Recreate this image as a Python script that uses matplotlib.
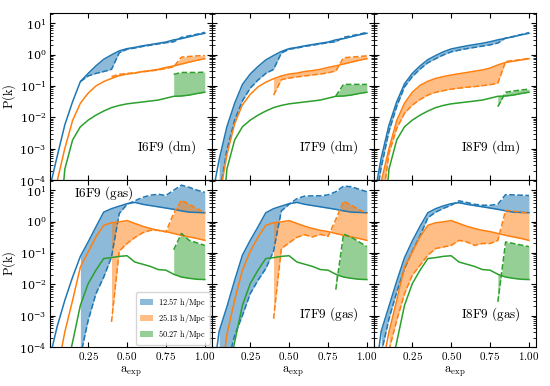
import numpy as np
import matplotlib
matplotlib.use("Agg")
import matplotlib.pyplot as plt
from matplotlib.patches import Patch
from matplotlib.ticker import FuncFormatter

plt.rcParams['mathtext.fontset'] = 'cm'
plt.rcParams['font.family'] = 'serif'
plt.rcParams['font.serif'] = ['DejaVu Serif']

N = np.nan

# scale factor grid
a_exp = [0.01, 0.05, 0.10, 0.15, 0.20, 0.25, 0.30, 0.35, 0.40, 0.45, 0.50,
         0.55, 0.60, 0.65, 0.70, 0.75, 0.80, 0.85, 0.90, 0.95, 1.00]

modes = ['12.57 h/Mpc', '25.13 h/Mpc', '50.27 h/Mpc']

# log10 P(k) (solid = reference run, dashed = lower res run)
# --- dm ---
i6_dm_k1 = [-4.1, -3.26, -2.24, -1.5, -0.86, -0.6, -0.36, -0.15, -0.01, 0.12, 0.19, 0.23, 0.28, 0.32, 0.36, 0.40, 0.47, 0.51, 0.57, 0.63, 0.68]
i6_dm_k1d = [N, N, N, N, -0.86, -0.68, -0.6, -0.54, -0.47, 0.06, 0.17, 0.21, 0.26, 0.30, 0.34, 0.38, 0.41, 0.55, 0.60, 0.65, 0.71]
i6_dm_k2 = [N, -4.05, -2.99, -2.1, -1.55, -1.23, -1.0, -0.86, -0.76, -0.67, -0.62, -0.59, -0.54, -0.51, -0.47, -0.41, -0.36, -0.30, -0.24, -0.18, -0.13]
i6_dm_k2d = [N] * 8 + [-0.7, -0.63, -0.6, -0.58, -0.55, -0.52, -0.49, -0.44, -0.39, -0.08, -0.06, -0.04, -0.03]
i6_dm_k3 = [N, -6.5, -3.65, -2.72, -2.3, -2.09, -1.93, -1.8, -1.69, -1.62, -1.57, -1.54, -1.51, -1.48, -1.45, -1.39, -1.33, -1.32, -1.29, -1.24, -1.2]
i6_dm_k3d = [N] * 16 + [-0.63, -0.57, -0.57, -0.57, -0.56]

i7_dm_k1 = [-4.4, -3.35, -2.3, -1.55, -0.95, -0.62, -0.38, -0.17, -0.03, 0.1, 0.19, 0.23, 0.28, 0.32, 0.36, 0.40, 0.47, 0.51, 0.57, 0.63, 0.68]
i7_dm_k1d = [N, -4.5, -3.04, -2.09, -1.47, -1.07, -0.81, -0.6, -0.47, 0.05, 0.17, 0.21, 0.26, 0.30, 0.34, 0.38, 0.41, 0.55, 0.60, 0.65, 0.71]
i7_dm_k2 = [N, -4.6, -3.2, -2.2, -1.6, -1.27, -1.03, -0.88, -0.77, -0.68, -0.62, -0.59, -0.54, -0.51, -0.47, -0.41, -0.36, -0.30, -0.24, -0.18, -0.13]
i7_dm_k2d = [N] * 8 + [-1.29, -0.8, -0.75, -0.71, -0.68, -0.65, -0.62, -0.58, -0.52, -0.1, -0.08, -0.06, -0.04]
i7_dm_k3 = [N, -6.5, -3.65, -2.72, -2.3, -2.09, -1.93, -1.8, -1.69, -1.62, -1.57, -1.54, -1.51, -1.48, -1.45, -1.39, -1.33, -1.32, -1.29, -1.24, -1.2]
i7_dm_k3d = [N] * 16 + [-1.32, -0.95, -0.95, -0.95, -0.95]

i8_dm_k1 = [-4.4, -3.3, -2.25, -1.5, -0.93, -0.6, -0.36, -0.16, -0.03, 0.09, 0.18, 0.23, 0.28, 0.32, 0.36, 0.41, 0.47, 0.52, 0.57, 0.63, 0.68]
i8_dm_k1d = [-4.8, -3.6, -2.45, -1.65, -1.03, -0.7, -0.46, -0.26, -0.13, -0.01, 0.09, 0.14, 0.19, 0.23, 0.27, 0.31, 0.37, 0.53, 0.58, 0.64, 0.70]
i8_dm_k2 = [N, -4.05, -3.0, -2.1, -1.55, -1.2, -0.98, -0.85, -0.76, -0.7, -0.65, -0.61, -0.57, -0.53, -0.49, -0.43, -0.33, -0.25, -0.21, -0.17, -0.13]
i8_dm_k2d = [N, -5.0, -3.15, -2.35, -1.87, -1.61, -1.43, -1.29, -1.2, -1.15, -1.1, -1.07, -1.04, -1.02, -0.99, -0.96, -0.91, -0.22, -0.19, -0.16, -0.12]
i8_dm_k3 = [N, -6.5, -3.65, -2.72, -2.3, -2.09, -1.93, -1.8, -1.69, -1.62, -1.57, -1.54, -1.51, -1.48, -1.45, -1.39, -1.33, -1.32, -1.29, -1.24, -1.2]
i8_dm_k3d = [N] * 16 + [-1.66, -1.2, -1.16, -1.13, -1.1]

# --- gas ---
i6_gas_k1 = [-4.2, -3.36, -2.51, -1.77, -1.11, -0.65, -0.17, 0.3, 0.41, 0.49, 0.57, 0.61, 0.55, 0.51, 0.47, 0.43, 0.39, 0.34, 0.3, 0.29, 0.28]
i6_gas_k1d = [N, N, N, N, -4.3, -3.15, -2.3, -1.77, -1.13, 0.26, 0.55, 0.66, 0.77, 0.84, 0.87, 0.83, 1.0, 1.16, 1.09, 1.0, 0.93]
i6_gas_k2 = [N, -4.8, -3.52, -2.51, -1.45, -0.97, -0.49, -0.12, -0.04, -0.01, 0.03, -0.06, -0.15, -0.22, -0.28, -0.32, -0.38, -0.44, -0.49, -0.54, -0.6]
i6_gas_k2d = [N] * 8 + [-3.2, -0.94, -0.7, -0.51, -0.36, -0.28, -0.28, -0.33, 0.26, 0.68, 0.55, 0.41, 0.28]
i6_gas_k3 = [N, N, -5.0, -3.84, -2.67, -1.98, -1.55, -1.18, -1.15, -1.11, -1.09, -1.29, -1.36, -1.43, -1.53, -1.55, -1.68, -1.77, -1.81, -1.84, -1.85]
i6_gas_k3d = [N] * 16 + [-0.9, -0.38, -0.6, -0.68, -0.76]

i7_gas_k1 = [-5.0, -3.5, -2.72, -1.87, -1.07, -0.6, -0.17, 0.28, 0.41, 0.49, 0.57, 0.61, 0.55, 0.51, 0.47, 0.43, 0.39, 0.34, 0.3, 0.29, 0.28]
i7_gas_k1d = [N, -5.5, -4.6, -3.63, -2.99, -2.3, -1.87, -1.5, -0.94, 0.34, 0.55, 0.73, 0.81, 0.82, 0.82, 0.85, 0.95, 1.13, 1.11, 1.03, 0.95]
i7_gas_k2 = [N, -5.5, -3.6, -2.5, -1.55, -0.95, -0.5, -0.12, -0.04, -0.01, 0.03, -0.06, -0.15, -0.22, -0.28, -0.32, -0.38, -0.44, -0.49, -0.54, -0.6]
i7_gas_k2d = [N] * 8 + [-3.1, -0.86, -0.68, -0.5, -0.42, -0.49, -0.41, -0.47, 0.06, 0.65, 0.52, 0.38, 0.26]
i7_gas_k3 = [N, N, -5.0, -3.84, -2.67, -1.98, -1.55, -1.18, -1.15, -1.11, -1.09, -1.29, -1.36, -1.43, -1.53, -1.55, -1.68, -1.77, -1.81, -1.84, -1.85]
i7_gas_k3d = [N] * 16 + [-2.17, -0.4, -0.5, -0.65, -0.8]

i8_gas_k1 = [-5.0, -3.5, -2.7, -1.9, -1.15, -0.62, -0.15, 0.28, 0.41, 0.5, 0.57, 0.6, 0.55, 0.51, 0.47, 0.43, 0.39, 0.34, 0.3, 0.29, 0.28]
i8_gas_k1d = [N, -4.2, -3.1, -2.25, -1.5, -0.95, -0.45, 0.12, 0.3, 0.42, 0.52, 0.66, 0.61, 0.55, 0.52, 0.52, 0.55, 0.86, 0.85, 0.84, 0.83]
i8_gas_k2 = [N, -4.8, -3.52, -2.51, -1.45, -0.97, -0.49, -0.12, -0.04, -0.01, 0.03, -0.06, -0.15, -0.22, -0.28, -0.32, -0.38, -0.44, -0.49, -0.54, -0.6]
i8_gas_k2d = [N, N, -4.1, -3.15, -2.3, -1.71, -1.39, -1.07, -0.86, -0.81, -0.76, -0.6, -0.65, -0.76, -0.7, -0.7, -0.6, 0.36, 0.33, 0.3, 0.26]
i8_gas_k3 = [N, N, -5.0, -3.84, -2.67, -1.98, -1.55, -1.18, -1.15, -1.11, -1.09, -1.29, -1.36, -1.43, -1.53, -1.55, -1.68, -1.77, -1.81, -1.84, -1.85]
i8_gas_k3d = [N] * 16 + [-2.56, -0.65, -0.7, -0.75, -0.8]

panels = [
    ('I6F9 (dm)', [(i6_dm_k1, i6_dm_k1d), (i6_dm_k2, i6_dm_k2d), (i6_dm_k3, i6_dm_k3d)]),
    ('I7F9 (dm)', [(i7_dm_k1, i7_dm_k1d), (i7_dm_k2, i7_dm_k2d), (i7_dm_k3, i7_dm_k3d)]),
    ('I8F9 (dm)', [(i8_dm_k1, i8_dm_k1d), (i8_dm_k2, i8_dm_k2d), (i8_dm_k3, i8_dm_k3d)]),
    ('I6F9 (gas)', [(i6_gas_k1, i6_gas_k1d), (i6_gas_k2, i6_gas_k2d), (i6_gas_k3, i6_gas_k3d)]),
    ('I7F9 (gas)', [(i7_gas_k1, i7_gas_k1d), (i7_gas_k2, i7_gas_k2d), (i7_gas_k3, i7_gas_k3d)]),
    ('I8F9 (gas)', [(i8_gas_k1, i8_gas_k1d), (i8_gas_k2, i8_gas_k2d), (i8_gas_k3, i8_gas_k3d)]),
]
colors = ['C0', 'C1', 'C2']

fig, axes = plt.subplots(2, 3, figsize=(5.5, 3.86), dpi=100, sharex=True, sharey=True)
fig.subplots_adjust(left=0.091, right=0.975, top=0.966, bottom=0.101, wspace=0, hspace=0)

a = np.array(a_exp)
for ax, (name, series) in zip(axes.flat, panels):
    for (solid, dashed), c in zip(series, colors):
        ps = 10 ** np.array(solid)
        pd_ = 10 ** np.array(dashed)
        ax.fill_between(a, ps, pd_, color=c, alpha=0.5, lw=0)
        ax.plot(a, ps, color=c, lw=1.1)
        ax.plot(a, pd_, color=c, lw=1.1, ls='--')
    ax.set_yscale('log')
    ax.set_xlim(0.005, 1.047)
    ax.set_ylim(1e-4, 21)
    ax.tick_params(which='both', direction='in', top=True, right=True, labelsize=8)
    ax.tick_params(which='major', length=3.5, pad=2.5)
    ax.tick_params(which='minor', length=2)
    ax.tick_params(which='minor', axis='x', bottom=False, top=False)
    if name == 'I6F9 (gas)':
        ax.text(0.33, 0.92, r'$\mathrm{' + name.replace(' ', r'\ ') + '}$',
                transform=ax.transAxes, ha='center', va='center', fontsize=9.5)
    else:
        ax.text(0.72, 0.2, r'$\mathrm{' + name.replace(' ', r'\ ') + '}$',
                transform=ax.transAxes, ha='center', va='center', fontsize=9.5)

axes[1, 0].set_xticks([0.25, 0.5, 0.75, 1.0])
for ax in axes[1]:
    ax.xaxis.set_major_formatter(FuncFormatter(lambda v, p: r'$%.2f$' % v))
    ax.set_xlabel(r'$\mathrm{a_{exp}}$', fontsize=9, labelpad=2)
for ax in axes[:, 0]:
    ax.set_ylabel(r'$\mathrm{P(k)}$', fontsize=9, labelpad=1)

handles = [Patch(color=c, alpha=0.5, lw=0) for c in colors]
labels = [r'$\mathrm{' + m.replace(' ', r'\ ') + '}$' for m in modes]
axes[1, 0].legend(handles, labels, loc='lower right', fontsize=6, handlelength=1.6,
                  handletextpad=0.6, borderpad=0.45, labelspacing=0.35,
                  borderaxespad=0.3)

fig.savefig('out.png', dpi=100)
